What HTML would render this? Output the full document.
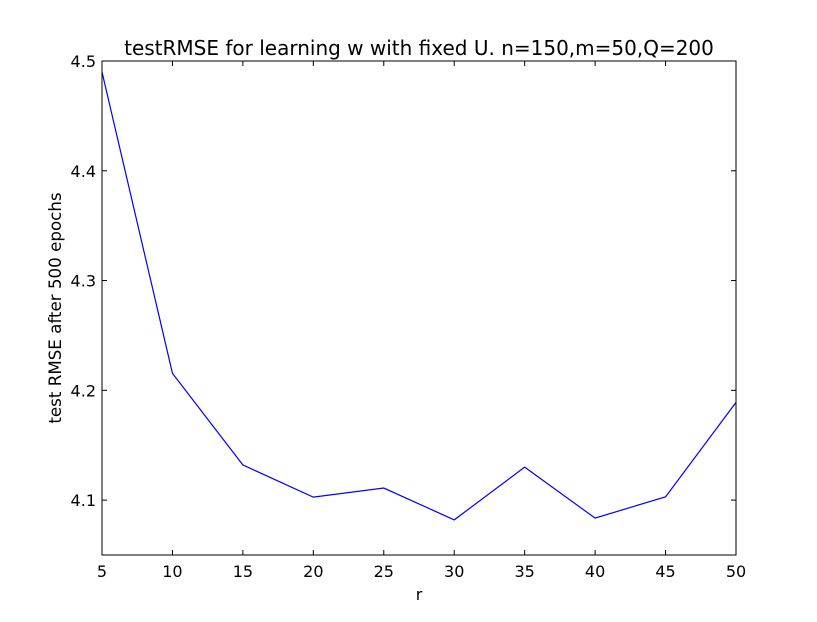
<!DOCTYPE html>
<html><head><meta charset="utf-8"><style>
body{margin:0;background:#fff;}
svg text{font-family:"DejaVu Sans","Liberation Sans",sans-serif;}
</style></head><body>
<svg id="chart" width="817" height="617" xmlns="http://www.w3.org/2000/svg">
<rect width="817" height="617" fill="#fff"/>
<text x="419" y="55" font-size="20" text-anchor="middle">testRMSE for learning w with fixed U. n=150,m=50,Q=200</text>
<text x="419" y="600" font-size="16" text-anchor="middle">r</text>
<text transform="translate(61,308) rotate(-90)" font-size="16.7" text-anchor="middle">test RMSE after 500 epochs</text>
<g id="ticks"></g>
<polyline id="line" fill="none" stroke="#0000ff" stroke-width="1.2"/>
<rect x="102" y="61" width="634" height="494" fill="none" stroke="#000" stroke-width="1"/>
</svg>
<script>
const rValues=[5,10,15,20,25,30,35,40,45,50];
const rmseValues=[4.49,4.2155,4.132,4.1027,4.111,4.082,4.130,4.0836,4.103,4.189];
const xTickLabels=["5","10","15","20","25","30","35","40","45","50"];
const yTickLabels=["4.1","4.2","4.3","4.4","4.5"];
const X0=102,X1=736,Y0=555,Y1=61;
const xMin=5,xMax=50,yMin=4.05,yMax=4.5;
function xs(v){return X0+(v-xMin)/(xMax-xMin)*(X1-X0);}
function ys(v){return Y0-(v-yMin)/(yMax-yMin)*(Y0-Y1);}
const NS="http://www.w3.org/2000/svg";
const g=document.getElementById('ticks');
function mk(tag,attrs){const e=document.createElementNS(NS,tag);for(const k in attrs)e.setAttribute(k,attrs[k]);g.appendChild(e);return e;}
xTickLabels.forEach(function(t){
 const x=xs(parseFloat(t));
 const a=mk('line',{x1:x,x2:x,y1:Y0,y2:Y0-5,stroke:'#000'});
 
 
 const b=mk('line',{x1:x,x2:x,y1:Y1,y2:Y1+5,stroke:'#000'});
 
 
 const tx=mk('text',{x:x,y:Y0+22,'font-size':16,'text-anchor':'middle'});
 tx.textContent=t;
 
 
});
yTickLabels.forEach(function(t){
 const y=ys(parseFloat(t));
 const a=mk('line',{x1:X0,x2:X0+5,y1:y,y2:y,stroke:'#000'});
 
 
 const b=mk('line',{x1:X1,x2:X1-5,y1:y,y2:y,stroke:'#000'});
 
 
 const tx=mk('text',{x:X0-6,y:y+6,'font-size':16,'text-anchor':'end'});
 tx.textContent=t;
 
 
});
document.getElementById('line').setAttribute('points',rValues.map(function(r,i){return xs(r)+','+ys(rmseValues[i]);}).join(' '));
</script>
</body></html>
